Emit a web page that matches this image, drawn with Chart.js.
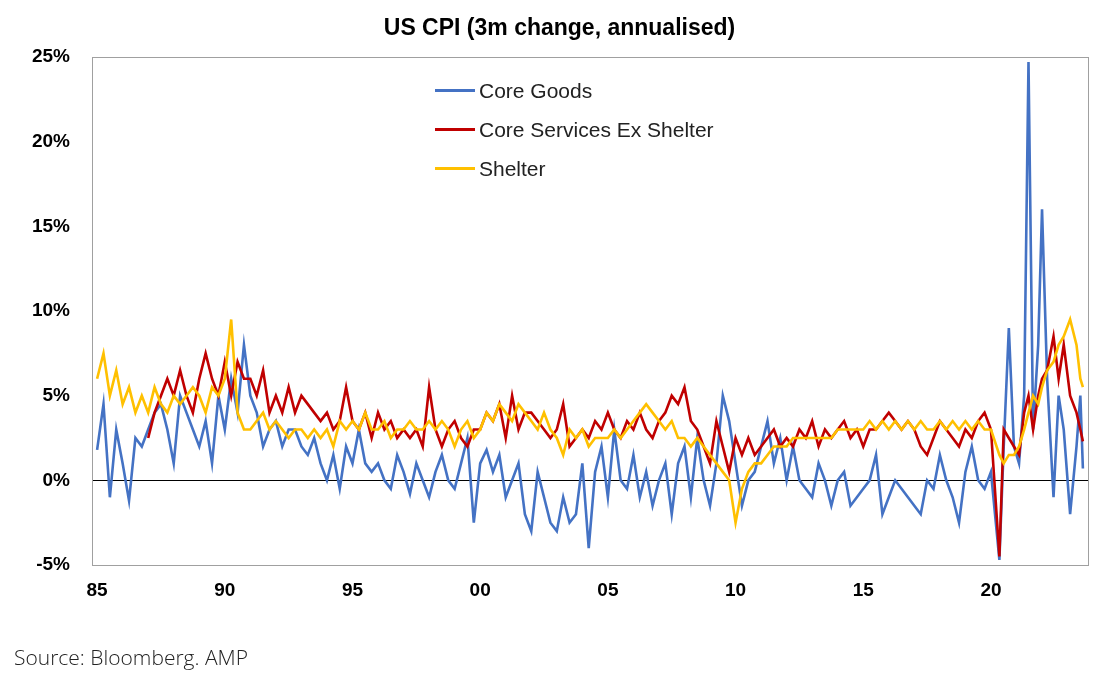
<!DOCTYPE html>
<html>
<head>
<meta charset="utf-8">
<script src="https://cdn.jsdelivr.net/npm/chart.js@4"></script>
<style>
	body { margin: 0; background: #fff; }
	#wrap { position: relative; width: 1119px; height: 685px; }
	#title { position: absolute; top: 14px; left: 0; width: 1119px; text-align: center; font: bold 23px Arial, "Liberation Sans", sans-serif; color: #000; }
	#source { position: absolute; left: 14px; top: 643px; font: 21px "Open Sans", "Noto Sans", sans-serif; color: #222; font-weight: 300; }
	#legend { position: absolute; left: 435px; top: 71px; font: 21px Arial, "Liberation Sans", sans-serif; color: #222; }
	#legend div { height: 39px; display: flex; align-items: center; }
	#legend span.sw { display: inline-block; width: 40px; height: 3px; margin-right: 4px; }
</style>
</head>
<body>
<div id="wrap">
	<canvas id="cpi" width="1119" height="685"></canvas>
	<div id="title">US CPI (3m change, annualised)</div>
	<div id="legend">
		<div><span class="sw" style="background:#4472C4"></span>Core Goods</div>
		<div><span class="sw" style="background:#C00000"></span>Core Services Ex Shelter</div>
		<div><span class="sw" style="background:#FFC000"></span>Shelter</div>
	</div>
	<div id="source">Source: Bloomberg. AMP</div>
</div>
<script>
// quarterly points 1985-2019, then a denser tail for 2020-23
var tailDates = [2020.0, 2020.33, 2020.5, 2020.7, 2020.9, 2021.1, 2021.3, 2021.47, 2021.65, 2021.85, 2022.0, 2022.2, 2022.45, 2022.65, 2022.85, 2023.1, 2023.35, 2023.5, 2023.6];
var dates = [];
for (var yr = 1985; yr < 2020; yr++) {
	dates.push(yr, yr + 0.25, yr + 0.5, yr + 0.75);
}
dates = dates.concat(tailDates);

var coreGoods = [
	1.8, 4.5, -1, 3,   1, -1.2, 2.5, 2,   3, 4, 4.5, 3,   1, 5, 4, 3,   2, 3.5, 1, 5,
	3, 6, 4, 8,   5, 4, 2, 3,   3.5, 2, 3, 3,   2, 1.5, 2.5, 1,   0, 1.5, -0.5, 2,
	1, 3, 1, 0.5,   1, 0, -0.5, 1.5,   0.5, -0.8, 1, 0,   -1, 0.5, 1.5, 0,   -0.5, 1, 2.5, -2.5,
	1, 1.8, 0.5, 1.5,   -1, 0, 1, -2,   -3, 0.5, -1, -2.5,   -3, -1, -2.5, -2,   1, -4, 0.5, 2,
	-1, 3, 0, -0.5,   1.5, -1, 0.5, -1.5,   0, 1, -2, 1,   2, -1, 2.5, 0,   -1.5, 1, 5, 3.5,
	1, -1.5, 0, 0.5,   2, 3.5, 1, 2.5,   0, 2, 0, -0.5,   -1, 1, 0, -1.5,   0, 0.5, -1.5, -1,
	-0.5, 0, 1.5, -2,   -1, 0, -0.5, -1,   -1.5, -2, 0, -0.5,   1.5, 0, -1, -2.5,   0.5, 2, 0, -0.5,
	0.5, -4.7, 2, 9, 2, 1, 5, 24.7, 3, 8, 16, 6, -1, 5, 3, -2, 2, 5, 0.7
];
var coreServicesExShelter = [
	null, null, null, null,   null, null, null, null,
	2.5, 4, 5, 6,   5, 6.5, 5, 4,   6, 7.5, 6, 5,   7, 5, 7, 6,   6, 5, 6.5, 4,
	5, 4, 5.5, 4,   5, 4.5, 4, 3.5,   4, 3, 3.5, 5.5,   3.5, 3, 4, 2.5,   4, 3, 3.5, 2.5,
	3, 2.5, 3, 2,   5.5, 3, 2, 3,   3.5, 2.5, 2, 3,   3, 4, 3.5, 4.5,   2.5, 5, 3, 4,
	4, 3.5, 3, 2.5,   3, 4.5, 2, 2.5,   3, 2.5, 3.5, 3,   4, 3, 2.5, 3.5,   3, 4, 3, 2.5,
	3.5, 4, 5, 4.5,   5.5, 3.5, 3, 2,   1, 3.5, 2, 0.5,   2.5, 1.5, 2.5, 1.5,   2, 2.5, 3, 2,
	2.5, 2, 3, 2.5,   3.5, 2, 3, 2.5,   3, 3.5, 2.5, 3,   2, 3, 3, 3.5,   4, 3.5, 3, 3.5,
	3, 2, 1.5, 2.5,   3.5, 3, 2.5, 2,   3, 2.5, 3.5, 4,
	3, -4.5, 3, 2.5, 2, 1.5, 4, 5, 3, 5, 6, 6.5, 8.5, 6, 8, 5, 4, 3, 2.3
];
var shelter = [
	6, 7.5, 5, 6.5,   4.5, 5.5, 4, 5,   4, 5.5, 4.5, 4,   5, 4.5, 5, 5.5,   5, 4, 5.5, 5,
	6, 9.5, 4, 3,   3, 3.5, 4, 3,   3.5, 3, 2.5, 3,   3, 2.5, 3, 2.5,   3, 2, 3.5, 3,
	3.5, 3, 4, 3,   3, 3.5, 2.5, 3,   3, 3.5, 3, 3,   3.5, 3, 3.5, 3,   2, 3, 3.5, 2.5,
	3, 4, 3.5, 4.5,   4, 3.5, 4.5, 4,   3.5, 3, 4, 3,   2.5, 1.5, 3, 2.5,   3, 2, 2.5, 2.5,
	2.5, 3, 2.5, 3,   3.5, 4, 4.5, 4,   3.5, 3, 3.5, 2.5,   2.5, 2, 2.5, 2,   1.5, 1, 0.5, 0,
	-2.5, -0.5, 0.5, 1,   1, 1.5, 2, 2,   2, 2.5, 2.5, 2.5,   2.5, 2.5, 2.5, 2.5,   3, 3, 3, 3,
	3, 3.5, 3, 3.5,   3, 3.5, 3, 3.5,   3, 3.5, 3, 3,   3.5, 3, 3.5, 3,   3.5, 3, 3.5, 3,
	3, 1.5, 1, 1.5, 1.5, 2, 3, 4, 5, 4.5, 5.5, 6.5, 7, 8, 8.5, 9.5, 8, 6, 5.5
];
var xTicks = [1985, 1990, 1995, 2000, 2005, 2010, 2015, 2020];
var yTicks = [-5, 0, 5, 10, 15, 20, 25];

function pts(values) {
	return dates.map(function(d, i){ return {x: d, y: values[i]}; });
}

var frame = {
	id: 'frame',
	afterDraw: function(chart) {
		var a = chart.chartArea, ctx = chart.ctx;
		ctx.save();
		ctx.strokeStyle = '#a0a0a0';
		ctx.lineWidth = 1;
		ctx.strokeRect(a.left + 0.5, a.top + 0.5, a.right - a.left, a.bottom - a.top);
		ctx.restore();
	}
};

var font = { family: 'Arial, "Liberation Sans", sans-serif', size: 19, weight: 'bold' };

new Chart('cpi', {
	type: 'line',
	data: {
		datasets: [
			{ label: 'Core Goods', data: pts(coreGoods), borderColor: '#4472C4', order: 3 },
			{ label: 'Core Services Ex Shelter', data: pts(coreServicesExShelter), borderColor: '#C00000', order: 2 },
			{ label: 'Shelter', data: pts(shelter), borderColor: '#FFC000', order: 1 }
		]
	},
	options: {
		responsive: false,
		animation: false,
		spanGaps: false,
		layout: { padding: { top: 57, right: 31, bottom: 75, left: 0 } },
		elements: { point: { radius: 0 }, line: { borderWidth: 2.6, tension: 0 } },
		plugins: { legend: { display: false }, title: { display: false }, tooltip: { enabled: false } },
		scales: {
			x: {
				type: 'linear', min: 1984.8, max: 2023.8,
				afterBuildTicks: function(s){ s.ticks = xTicks.map(function(v){ return {value: v}; }); },
				afterFit: function(s){ s.height = 45; },
				grid: { display: false, drawTicks: false },
				border: { display: false },
				ticks: { color: '#000', font: font, padding: 14, maxRotation: 0,
					callback: function(v){ return String(v % 100).padStart(2, '0'); } }
			},
			y: {
				min: -5, max: 25,
				afterBuildTicks: function(s){ s.ticks = yTicks.map(function(v){ return {value: v}; }); },
				afterFit: function(s){ s.width = 92; },
				grid: { drawTicks: false, lineWidth: 1,
					color: function(c){ return c.tick && c.tick.value === 0 ? '#000' : 'rgba(0,0,0,0)'; } },
				border: { display: false },
				ticks: { color: '#000', font: font, padding: 22,
					callback: function(v){ return v + '%'; } }
			}
		}
	},
	plugins: [frame]
});
</script>
</body>
</html>
